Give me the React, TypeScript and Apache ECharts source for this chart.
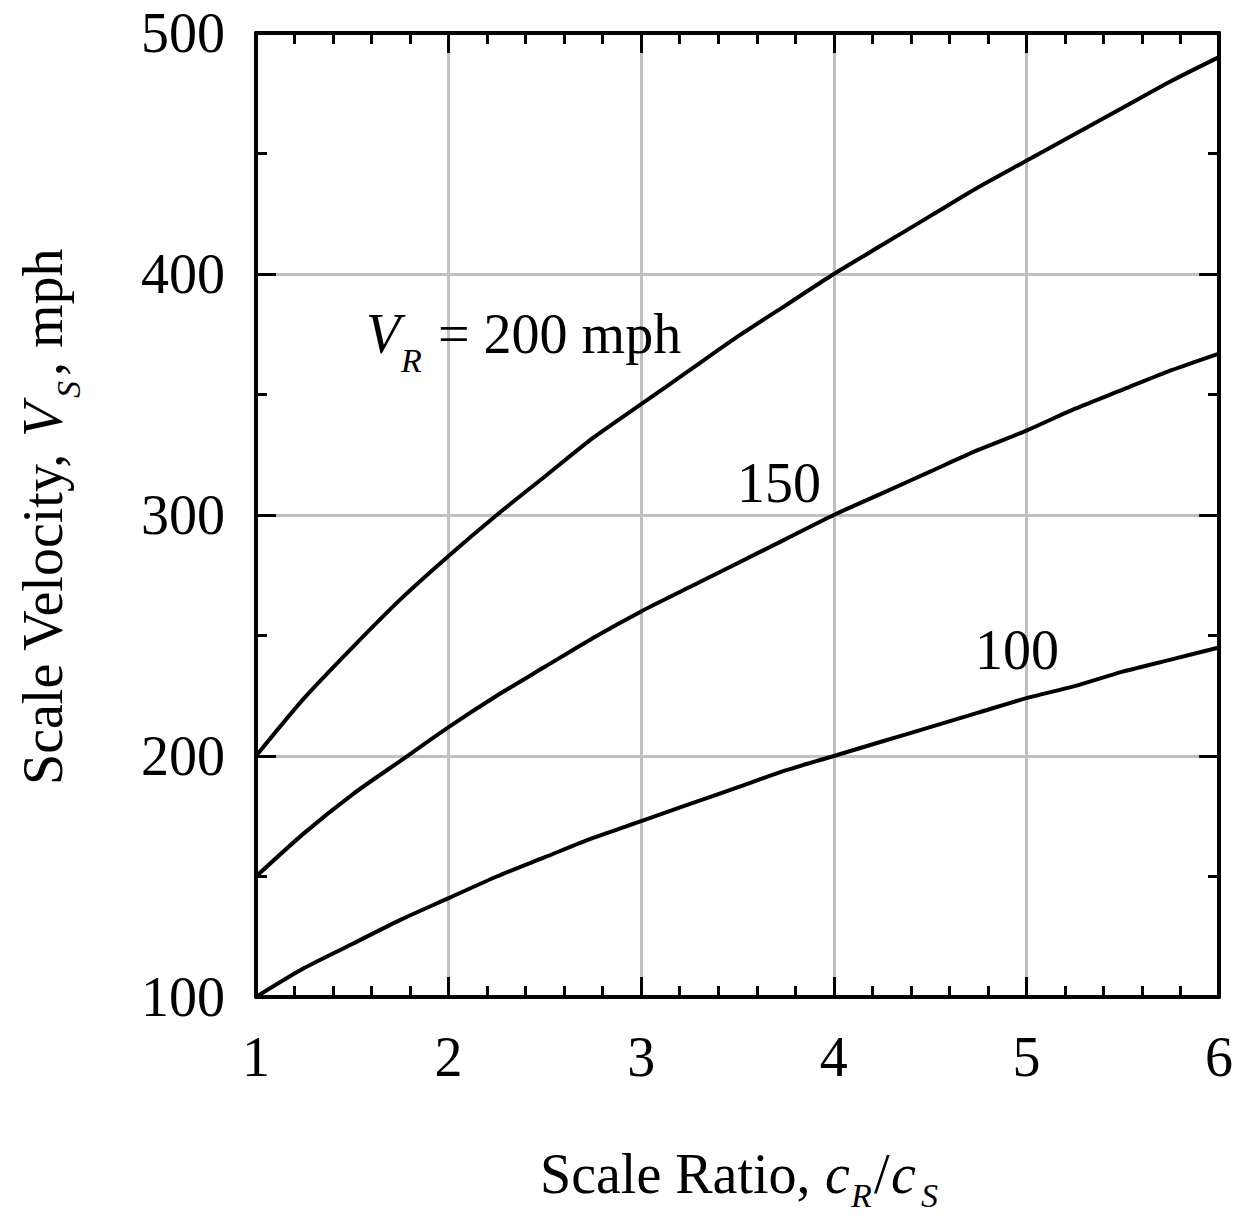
import React, { useEffect, useRef } from "react";
import * as echarts from "echarts";

const ratio = [1, 1.25, 1.5, 1.75, 2, 2.25, 2.5, 2.75, 3, 3.25, 3.5, 3.75, 4, 4.25, 4.5, 4.75, 5, 5.25, 5.5, 5.75, 6];
const vr200 = [200, 224, 245, 265, 283, 300, 316, 332, 346, 360, 374, 387, 400, 412, 424, 436, 447, 458, 469, 480, 490];
const vr150 = [150, 168, 184, 198, 212, 225, 237, 249, 260, 270, 280, 290, 300, 309, 318, 327, 335, 344, 352, 360, 367];
const vr100 = [100, 112, 122, 132, 141, 150, 158, 166, 173, 180, 187, 194, 200, 206, 212, 218, 224, 229, 235, 240, 245];

const seriesNames = ["200", "150", "100"];
const xTicks = { min: 1, max: 6, step: 1 };
const yTicks = { min: 100, max: 500, step: 100 };

const FONT = "'Liberation Serif', 'Times New Roman', serif";

export default function App() {
  const ref = useRef<HTMLDivElement>(null);
  useEffect(() => {
    if (!ref.current) return;
    const chart = echarts.init(ref.current, null, { renderer: "svg" });
    const pair = (ys: number[]) => ratio.map((x, i) => [x, ys[i]]);
    const axisCommon = {
      axisLine: { show: true, onZero: false, lineStyle: { color: "#000", width: 4 } },
      axisTick: { show: true, inside: true, length: 20, lineStyle: { color: "#000", width: 3 } },
    };
    const txt = (
      text: string,
      x: number,
      y: number,
      size: number,
      italic = false,
      rotation = 0
    ) => ({
      type: "text",
      x,
      y,
      rotation,
      z: 10,
      style: {
        text,
        fontFamily: FONT,
        fontSize: size,
        fontStyle: italic ? "italic" : "normal",
        fill: "#000",
        align: "left",
        verticalAlign: "middle",
      },
    });
    const R = Math.PI / 2;
    chart.setOption({
      animation: false,
      backgroundColor: "#fff",
      grid: { left: 256, right: 28, top: 33, bottom: 221, containLabel: false, outerBoundsMode: "none" },
      xAxis: [
        {
          type: "value",
          position: "bottom",
          min: xTicks.min,
          max: xTicks.max,
          interval: xTicks.step,
          ...axisCommon,
          minorTick: { show: true, splitNumber: 5, length: 11, lineStyle: { color: "#000", width: 3 } },
          splitLine: { show: true, lineStyle: { color: "#c0c0c0", width: 3 } },
          axisLabel: { fontSize: 56, fontFamily: FONT, color: "#000", margin: 32 },
        },
        {
          type: "value",
          position: "top",
          min: xTicks.min,
          max: xTicks.max,
          interval: xTicks.step,
          ...axisCommon,
          minorTick: { show: true, splitNumber: 5, length: 11, lineStyle: { color: "#000", width: 3 } },
          splitLine: { show: false },
          axisLabel: { show: false },
        },
      ],
      yAxis: [
        {
          type: "value",
          position: "left",
          min: yTicks.min,
          max: yTicks.max,
          interval: yTicks.step,
          ...axisCommon,
          minorTick: { show: true, splitNumber: 2, length: 11, lineStyle: { color: "#000", width: 3 } },
          splitLine: { show: true, lineStyle: { color: "#c0c0c0", width: 3 } },
          axisLabel: { fontSize: 56, fontFamily: FONT, color: "#000", margin: 31 },
        },
        {
          type: "value",
          position: "right",
          min: yTicks.min,
          max: yTicks.max,
          interval: yTicks.step,
          ...axisCommon,
          minorTick: { show: true, splitNumber: 2, length: 11, lineStyle: { color: "#000", width: 3 } },
          splitLine: { show: false },
          axisLabel: { show: false },
        },
      ],
      series: [vr200, vr150, vr100].map((d, i) => ({
        name: seriesNames[i],
        type: "line",
        xAxisIndex: 0,
        yAxisIndex: 0,
        data: pair(d),
        smooth: 0.25,
        showSymbol: false,
        lineStyle: { color: "#000", width: 4 },
        z: 5,
      })),
      graphic: [
        // curve annotations
        txt("V", 366, 334, 56, true),
        txt("R", 401, 360, 34, true),
        txt("= 200 mph", 438, 334, 56),
        txt("150", 737, 483, 56),
        txt("100", 975, 650, 56),
        // x-axis title
        txt("Scale Ratio, ", 540, 1174, 56),
        txt("c", 825, 1174, 56, true),
        txt("R", 851, 1195, 34, true),
        txt("/", 874, 1174, 56),
        txt("c", 891, 1174, 56, true),
        txt("S", 921, 1195, 34, true),
        // y-axis title (rotated)
        txt("Scale Velocity, ", 43, 785, 56, false, R),
        txt("V", 43, 437, 56, true, R),
        txt("S", 68, 398, 34, true, R),
        txt(", mph", 43, 376, 56, false, R),
      ],
    });
    return () => chart.dispose();
  }, []);
  return (
    <div
      ref={ref}
      style={{ position: "absolute", left: 0, top: 0, width: 1247, height: 1218, background: "#fff" }}
    />
  );
}
